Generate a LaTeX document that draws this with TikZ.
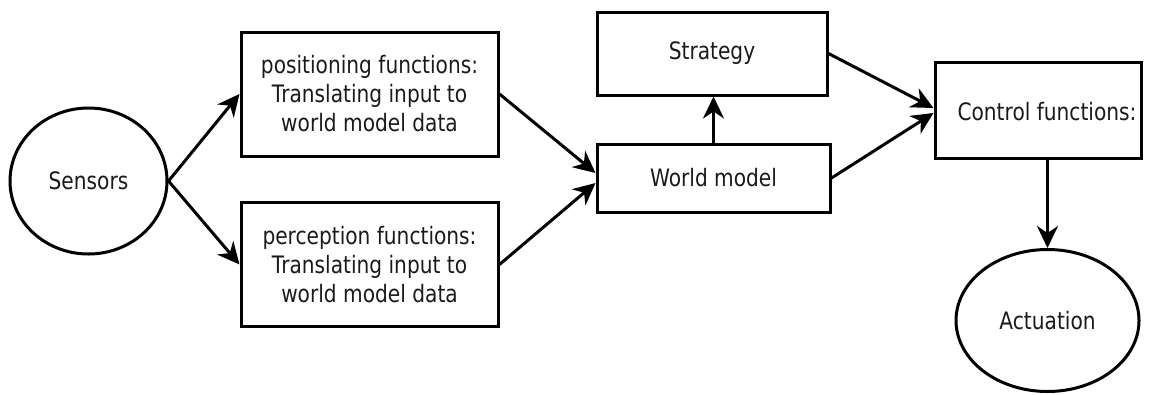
\documentclass[tikz,border=0pt]{standalone}
\usepackage{fontspec}
\setmainfont{DejaVu Sans}[FakeStretch=0.84]
\usetikzlibrary{arrows.meta,shapes.geometric}
\definecolor{ink}{HTML}{1A1A1A}
\tikzset{
  every node/.style={font=\fontsize{24}{29}\selectfont, text=ink, inner sep=0pt},
  blockbox/.style={draw=black, line width=3pt, rectangle, align=center},
  roundbox/.style={draw=black, line width=3pt, ellipse},
  flow/.style={draw=black, line width=3pt,
    -{Stealth[length=22pt,width=21pt,inset=7pt]}},
}
\begin{document}
\begin{tikzpicture}[x=1pt,y=-1pt]
\useasboundingbox (0,0) rectangle (1150,394);

\node[roundbox, minimum width=157pt, minimum height=146pt] (sens) at (88.5,181) {Sensors};
\node[blockbox, minimum width=257pt, minimum height=124pt] (pos) at (369.5,94)
  {positioning functions:\\Translating input to\\world model data};
\node[blockbox, minimum width=257pt, minimum height=124pt] (perc) at (369.5,264.5)
  {perception functions:\\Translating input to\\world model data};
\node[blockbox, minimum width=230pt, minimum height=83pt] (strat) at (712,53.5) {Strategy};
\node[blockbox, minimum width=233pt, minimum height=68pt] (world) at (713.5,178) {World model};
\node[blockbox, minimum width=206pt, minimum height=96pt] (ctrl) at (1038,110) {};
\node (ctrltext) at (1047,112) {Control functions:};
\node[roundbox, minimum width=183pt, minimum height=142pt] (act) at (1047.5,320.5) {Actuation};

\draw[flow] (sens.east) -- (pos.west);
\draw[flow] (sens.east) -- (perc.west);
\draw[flow] (pos.east) -- ([yshift=5pt]world.west);
\draw[flow] (perc.east) -- ([yshift=-5pt]world.west);
\draw[flow] (world.north) -- (world.north |- strat.south);
\draw[flow] (strat.east) -- ([yshift=2pt]ctrl.west);
\draw[flow] (world.east) -- ([yshift=-3pt]ctrl.west);
\draw[flow] (ctrl.south -| act.north) -- (act.north);
\end{tikzpicture}
\end{document}
